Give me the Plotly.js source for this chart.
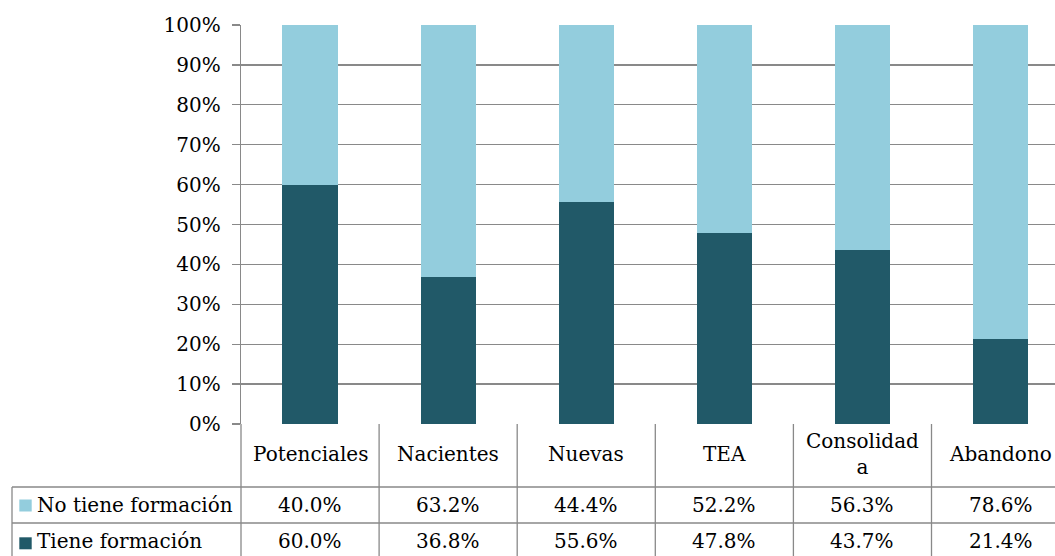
<!DOCTYPE html>
<html>
<head>
<meta charset="utf-8">
<script src="https://cdn.plot.ly/plotly-3.0.1.min.js"></script>
<style>html,body{margin:0;padding:0;background:#fff;overflow:hidden;}#chart{width:1055px;height:556px;}</style>
</head>
<body>
<div id="chart"></div>
<script>
const categories = ['Potenciales', 'Nacientes', 'Nuevas', 'TEA', 'Consolidada', 'Abandono'];
const categoryLabels = ['Potenciales', 'Nacientes', 'Nuevas', 'TEA', 'Consolidad<br>a', 'Abandono'];
const seriesNames = ['Tiene formación', 'No tiene formación'];
const tieneFormacion = [60.0, 36.8, 55.6, 47.8, 43.7, 21.4];
const noTieneFormacion = [40.0, 63.2, 44.4, 52.2, 56.3, 78.6];
const colors = ['#215968', '#93CDDD'];

const FONT = 'DejaVu Serif, serif';
const FS = 20;
const W = 1055, H = 556;
const L = 241, R = 0, T = 25, B = 132;
const pw = W - L - R, ph = H - T - B;
const catW = 138.1;
const px = x => (x - L) / pw;
const py = y => (T + ph - y) / ph;

const xIdx = categories.map((c, i) => i);

const traces = [
  {type: 'bar', name: seriesNames[0], x: xIdx, y: tieneFormacion.map(v => v / 100), marker: {color: colors[0]}, hoverinfo: 'skip'},
  {type: 'bar', name: seriesNames[1], x: xIdx, y: noTieneFormacion.map(v => v / 100), marker: {color: colors[1]}, hoverinfo: 'skip'}
];

const GRAY = '#898989';
const lineStyle = {color: GRAY, width: 1.3};
const shapes = [];
const annotations = [];

// table geometry (pixels)
const yHeadTop = H - B, yRow1Top = 487, yRow2Top = 523, yBottom = 559;
const xTableLeft = 12;

// vertical column borders
for (let i = 1; i < categories.length; i++) {
  const xb = i - 0.5;
  shapes.push({type: 'line', xref: 'x', yref: 'paper', x0: xb, x1: xb, y0: py(yHeadTop), y1: py(yBottom), line: lineStyle});
}
shapes.push({type: 'line', xref: 'paper', yref: 'paper', x0: 0, x1: 0, y0: 0, y1: py(yBottom), line: lineStyle});
// horizontal borders
shapes.push({type: 'line', xref: 'paper', yref: 'paper', x0: px(xTableLeft), x1: 1, y0: py(yRow1Top), y1: py(yRow1Top), line: lineStyle});
shapes.push({type: 'line', xref: 'paper', yref: 'paper', x0: px(xTableLeft), x1: 1, y0: py(yRow2Top), y1: py(yRow2Top), line: lineStyle});
shapes.push({type: 'line', xref: 'paper', yref: 'paper', x0: px(xTableLeft), x1: 1, y0: py(yBottom), y1: py(yBottom), line: lineStyle});
shapes.push({type: 'line', xref: 'paper', yref: 'paper', x0: px(xTableLeft), x1: px(xTableLeft), y0: py(yRow1Top), y1: py(yBottom), line: lineStyle});

// legend keys + data rows
const rowDefs = [
  {name: seriesNames[1], color: colors[1], vals: noTieneFormacion, cy: 505, ky: 505.5},
  {name: seriesNames[0], color: colors[0], vals: tieneFormacion, cy: 541, ky: 543.3}
];
rowDefs.forEach(r => {
  shapes.push({type: 'rect', xref: 'paper', yref: 'paper', x0: px(19.3), x1: px(31.7), y0: py(r.ky + 6), y1: py(r.ky - 6), line: {width: 0}, fillcolor: r.color});
  annotations.push({xref: 'paper', yref: 'paper', x: px(35), y: py(r.cy), xanchor: 'left', yanchor: 'middle', text: r.name, showarrow: false, font: {family: FONT, size: FS, color: '#000'}});
  r.vals.forEach((v, i) => {
    annotations.push({xref: 'x', yref: 'paper', x: i, y: py(r.cy), xanchor: 'center', yanchor: 'middle', text: v.toFixed(1) + '%', showarrow: false, font: {family: FONT, size: FS, color: '#000'}});
  });
});
// header labels
categoryLabels.forEach((lab, i) => {
  annotations.push({xref: 'x', yref: 'paper', x: i, y: py(454), xanchor: 'center', yanchor: 'middle', text: lab, showarrow: false, font: {family: FONT, size: FS, color: '#000'}});
});

const layout = {
  width: W, height: H,
  margin: {l: L, r: R, t: T, b: B, pad: 0},
  barmode: 'stack',
  bargap: 0.6,
  showlegend: false,
  paper_bgcolor: '#fff', plot_bgcolor: '#fff',
  font: {family: FONT, size: FS, color: '#000'},
  xaxis: {
    range: [-0.5, -0.5 + pw / catW],
    showticklabels: false, showgrid: false, zeroline: false, ticks: '',
    showline: false, fixedrange: true
  },
  yaxis: {
    range: [0, 1], tickvals: [0, 0.1, 0.2, 0.3, 0.4, 0.5, 0.6, 0.7, 0.8, 0.9, 1.0],
    tickformat: '.0%', showgrid: true, gridcolor: GRAY, gridwidth: 1.3,
    zeroline: false, showline: true, linecolor: GRAY, linewidth: 1.3,
    ticks: 'outside', ticklen: 8, tickcolor: GRAY, tickwidth: 1.3,
    ticklabelstandoff: 7,
    tickfont: {family: FONT, size: FS, color: '#000'}, fixedrange: true
  },
  shapes: shapes,
  annotations: annotations
};

Plotly.newPlot('chart', traces, layout, {displayModeBar: false, staticPlot: true});
</script>
</body>
</html>
